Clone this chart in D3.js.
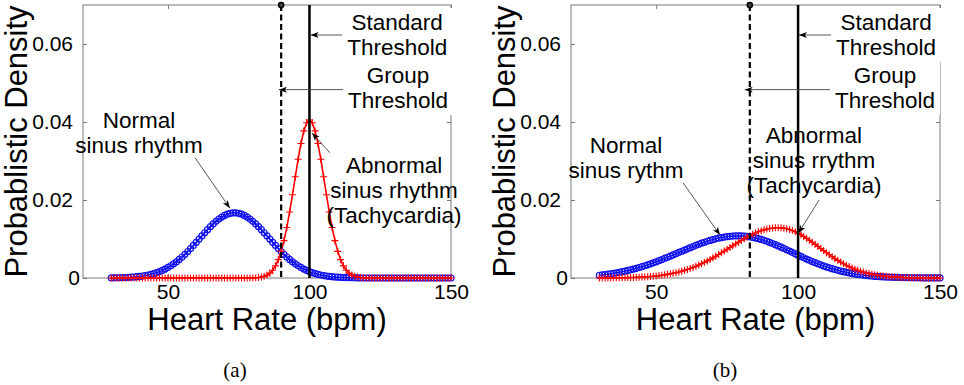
<!DOCTYPE html>
<html>
<head>
<meta charset="utf-8">
<script src="https://cdn.jsdelivr.net/npm/d3@7"></script>
<style>
  body { margin: 0; background: #fff; }
  svg { display: block; }
</style>
</head>
<body>
<svg id="fig" width="964" height="385"></svg>
<script>
// heart rate grid, 1 bpm steps
var heartRate = d3.range(30, 151);

// (a) densities
var normalA = [
    0.00003, 0.00004, 0.00006, 0.00007, 0.0001, 0.00012, 0.00016, 0.0002, 0.00026, 0.00033,
    0.00041, 0.00051, 0.00063, 0.00077, 0.00094, 0.00114, 0.00137, 0.00164, 0.00195, 0.0023,
    0.0027, 0.00314, 0.00363, 0.00416, 0.00476, 0.00539, 0.00607, 0.00679, 0.00755, 0.00834,
    0.00915, 0.00997, 0.01079, 0.0116, 0.01239, 0.01315, 0.01387, 0.01452, 0.01511, 0.01562,
    0.01604, 0.01636, 0.01658, 0.0167, 0.0167, 0.01658, 0.01636, 0.01604, 0.01562, 0.01511,
    0.01452, 0.01387, 0.01315, 0.01239, 0.0116, 0.01079, 0.00997, 0.00915, 0.00834, 0.00755,
    0.00679, 0.00607, 0.00539, 0.00476, 0.00416, 0.00363, 0.00314, 0.0027, 0.0023, 0.00195,
    0.00164, 0.00137, 0.00114, 0.00094, 0.00077, 0.00063, 0.00051, 0.00041, 0.00033, 0.00026,
    0.0002, 0.00016, 0.00012, 0.0001, 0.00007, 0.00006, 0.00004, 0.00003, 0, 0,
    0, 0, 0, 0, 0, 0, 0, 0, 0, 0,
    0, 0, 0, 0, 0, 0, 0, 0, 0, 0,
    0, 0, 0, 0, 0, 0, 0, 0, 0, 0,
    0
];
var abnormalA = [
    0, 0, 0, 0, 0, 0, 0, 0, 0, 0,
    0, 0, 0, 0, 0, 0, 0, 0, 0, 0,
    0, 0, 0, 0, 0, 0, 0, 0, 0, 0,
    0, 0, 0, 0, 0, 0, 0, 0, 0, 0,
    0, 0, 0, 0, 0, 0, 0, 0, 0, 0,
    0.00003, 0.00007, 0.00013, 0.00024, 0.00042, 0.00074, 0.00124, 0.002, 0.00312, 0.0047,
    0.00683, 0.00958, 0.01296, 0.01693, 0.02134, 0.02595, 0.03046, 0.0345, 0.03772, 0.03979,
    0.0405, 0.03979, 0.03772, 0.0345, 0.03046, 0.02595, 0.02134, 0.01693, 0.01296, 0.00958,
    0.00683, 0.0047, 0.00312, 0.002, 0.00124, 0.00074, 0.00042, 0.00024, 0.00013, 0.00007,
    0.00003, 0, 0, 0, 0, 0, 0, 0, 0, 0,
    0, 0, 0, 0, 0, 0, 0, 0, 0, 0,
    0, 0, 0, 0, 0, 0, 0, 0, 0, 0,
    0
];

// (b) densities
var normalB = [
    0.00071, 0.00079, 0.00088, 0.00098, 0.00109, 0.0012, 0.00133, 0.00146, 0.00161, 0.00176,
    0.00193, 0.0021, 0.00229, 0.00248, 0.00269, 0.00291, 0.00314, 0.00338, 0.00363, 0.00389,
    0.00416, 0.00444, 0.00473, 0.00502, 0.00532, 0.00562, 0.00593, 0.00624, 0.00655, 0.00686,
    0.00717, 0.00748, 0.00778, 0.00808, 0.00837, 0.00865, 0.00892, 0.00917, 0.00942, 0.00964,
    0.00985, 0.01004, 0.01022, 0.01037, 0.0105, 0.01061, 0.01069, 0.01075, 0.01079, 0.0108,
    0.01079, 0.01074, 0.01067, 0.01056, 0.01043, 0.01027, 0.01009, 0.00988, 0.00965, 0.0094,
    0.00913, 0.00885, 0.00855, 0.00823, 0.00791, 0.00758, 0.00724, 0.0069, 0.00655, 0.00621,
    0.00586, 0.00552, 0.00519, 0.00486, 0.00454, 0.00423, 0.00393, 0.00365, 0.00337, 0.0031,
    0.00285, 0.00262, 0.00239, 0.00218, 0.00198, 0.00179, 0.00162, 0.00146, 0.00131, 0.00118,
    0.00105, 0.00094, 0.00083, 0.00074, 0.00065, 0.00058, 0.00051, 0.00044, 0.00039, 0.00034,
    0.00029, 0.00026, 0.00022, 0.00019, 0.00016, 0.00014, 0.00012, 0.0001, 0.00009, 0.00007,
    0.00006, 0.00005, 0.00004, 0.00004, 0.00003, 0.00003, 0.00002, 0.00002, 0.00001, 0.00001,
    0.00001
];
var abnormalB = [
    0.00001, 0.00002, 0.00002, 0.00003, 0.00003, 0.00004, 0.00005, 0.00006, 0.00007, 0.00008,
    0.0001, 0.00012, 0.00014, 0.00017, 0.0002, 0.00024, 0.00028, 0.00033, 0.00039, 0.00045,
    0.00053, 0.00061, 0.0007, 0.00081, 0.00093, 0.00106, 0.00121, 0.00137, 0.00155, 0.00175,
    0.00196, 0.00219, 0.00245, 0.00272, 0.00301, 0.00332, 0.00365, 0.00401, 0.00438, 0.00476,
    0.00517, 0.00558, 0.00601, 0.00646, 0.00691, 0.00736, 0.00782, 0.00828, 0.00874, 0.00919,
    0.00963, 0.01006, 0.01046, 0.01085, 0.01121, 0.01155, 0.01185, 0.01212, 0.01235, 0.01255,
    0.0127, 0.01281, 0.01288, 0.0129, 0.01287, 0.01278, 0.01263, 0.01242, 0.01216, 0.01184,
    0.01148, 0.01108, 0.01064, 0.01017, 0.00967, 0.00916, 0.00863, 0.00809, 0.00755, 0.00702,
    0.00649, 0.00597, 0.00547, 0.00498, 0.00452, 0.00408, 0.00367, 0.00328, 0.00292, 0.00258,
    0.00228, 0.002, 0.00175, 0.00152, 0.00131, 0.00113, 0.00097, 0.00083, 0.0007, 0.00059,
    0.0005, 0.00042, 0.00035, 0.00029, 0.00024, 0.00019, 0.00016, 0.00013, 0.0001, 0.00008,
    0.00007, 0.00005, 0.00004, 0.00003, 0.00002, 0.00002, 0.00001, 0.00001, 0.00001, 0,
    0
];

var xTicks = [50, 100, 150];
var yTicks = [0, 0.02, 0.04, 0.06];
var standardThreshold = 100;
var groupThresholdA = 90;
var groupThresholdB = 83;

// annotation text, anchored in data units (bpm, density)
var notesA = [
    { lines: ["Standard", "Threshold"], at: [131, 0.0636], box: true, from: [115, 0.0623], to: [100.4, 0.0623] },
    { lines: ["Group", "Threshold"], at: [131.3, 0.05], box: true, from: [114.3, 0.0483], to: [89.2, 0.0483] },
    { lines: ["Normal", "sinus rhythm"], at: [39.8, 0.0385], from: [59.6, 0.0308], to: [71.9, 0.0179] },
    { lines: ["Abnormal", "sinus rhythm", "(Tachycardia)"], at: [129.9, 0.0269], from: [107.2, 0.0321], to: [100.9, 0.0372] }
];
var notesB = [
    { lines: ["Standard", "Threshold"], at: [131, 0.0636], box: true, from: [114.8, 0.0623], to: [100.3, 0.0623] },
    { lines: ["Group", "Threshold"], at: [130.6, 0.05], box: true, from: [114.4, 0.0483], to: [81.2, 0.0483] },
    { lines: ["Normal", "sinus rythm"], at: [39.4, 0.0321], from: [59.5, 0.0244], to: [72.5, 0.011] },
    { lines: ["Abnormal", "sinus rrythm", "(Tachycardia)"], at: [105.6, 0.0346], from: [107.4, 0.02], to: [100.1, 0.0115] }
];

var sans = "'Liberation Sans', Arial, Helvetica, sans-serif";
var svg = d3.select("#fig");

svg.append("rect").attr("width", 964).attr("height", 385).attr("fill", "#fff");
svg.append("defs").append("marker")
    .attr("id", "head")
    .attr("markerUnits", "userSpaceOnUse")
    .attr("markerWidth", 10).attr("markerHeight", 8)
    .attr("refX", 8).attr("refY", 4)
    .attr("orient", "auto")
    .append("path")
    .attr("d", "M0,1 L8,4 L0,7 L2,4 Z")
    .attr("fill", "#000");

function drawPanel(p) {
    var x = d3.scaleLinear().domain([20, 150]).range([p.left, p.right]);
    var y = d3.scaleLinear().domain([0, 0.07]).range([278, 5]);
    var g = svg.append("g");

    // axes (ticks inside, box on)
    var bottom = g.append("g").attr("transform", "translate(0," + y(0) + ")")
        .call(d3.axisBottom(x).tickValues(xTicks).tickSize(-4).tickPadding(6));
    var left = g.append("g").attr("transform", "translate(" + p.left + ",0)")
        .call(d3.axisLeft(y).tickValues(yTicks).tickSize(-4).tickPadding(10)
            .tickFormat(function (d) { return d === 0 ? "0" : d3.format(".2f")(d); }));
    var top = g.append("g").attr("transform", "translate(0," + y(0.07) + ")")
        .call(d3.axisTop(x).tickValues(xTicks).tickSize(-4).tickFormat(""));
    var right = g.append("g").attr("transform", "translate(" + p.right + ",0)")
        .call(d3.axisRight(y).tickValues(yTicks).tickSize(-4).tickFormat(""));

    [bottom, left, top, right].forEach(function (a) {
        a.attr("font-family", sans).attr("font-size", 21);
        a.select(".domain").remove();
        a.selectAll(".tick line").attr("stroke", "#7a7a7a");
        a.selectAll(".tick text").attr("fill", "#000");
    });
    left.selectAll(".tick text").filter(function (d) { return d === 0; }).attr("x", -3);

    g.append("rect")
        .attr("x", p.left).attr("y", y(0.07))
        .attr("width", p.right - p.left).attr("height", y(0) - y(0.07))
        .attr("fill", "none").attr("stroke", "#7a7a7a").attr("stroke-width", 1);

    // curves
    var line = d3.line()
        .x(function (d, i) { return x(heartRate[i]); })
        .y(function (d) { return y(d); });

    g.append("path").datum(p.normal)
        .attr("d", line)
        .attr("fill", "none").attr("stroke", "#0000ff").attr("stroke-width", 1.5);
    g.append("g").selectAll("circle").data(p.normal).join("circle")
        .attr("cx", function (d, i) { return x(heartRate[i]); })
        .attr("cy", function (d) { return y(d); })
        .attr("r", 3)
        .attr("fill", "none").attr("stroke", "#1010ee").attr("stroke-width", 1.2);

    g.append("path").datum(p.abnormal)
        .attr("d", line)
        .attr("fill", "none").attr("stroke", "#ff0000").attr("stroke-width", 1.6);
    g.append("g").selectAll("path").data(p.abnormal).join("path")
        .attr("transform", function (d, i) { return "translate(" + x(heartRate[i]) + "," + y(d) + ")"; })
        .attr("d", "M-3.5,0H3.5M0,-3.5V3.5")
        .attr("stroke", "#ff0000").attr("stroke-width", 1.1);

    // thresholds
    g.append("line")
        .attr("x1", x(standardThreshold)).attr("x2", x(standardThreshold))
        .attr("y1", y(0.07)).attr("y2", y(0))
        .attr("stroke", "#000").attr("stroke-width", 2.5);
    g.append("line")
        .attr("x1", x(p.group)).attr("x2", x(p.group))
        .attr("y1", y(0.07)).attr("y2", y(0))
        .attr("stroke", "#000").attr("stroke-width", 2.2)
        .attr("stroke-dasharray", "6,3.5");
    g.append("circle")
        .attr("cx", x(p.group)).attr("cy", y(0.07)).attr("r", 2.6)
        .attr("fill", "#444").attr("stroke", "#000").attr("stroke-width", 1.5);

    // annotations
    p.notes.forEach(function (n) {
        g.append("line")
            .attr("x1", x(n.from[0])).attr("y1", y(n.from[1]))
            .attr("x2", x(n.to[0])).attr("y2", y(n.to[1]))
            .attr("stroke", "#444").attr("stroke-width", 0.9)
            .attr("marker-end", "url(#head)");
    });
    p.notes.forEach(function (n) {
        var t = g.append("text")
            .attr("x", x(n.at[0])).attr("y", y(n.at[1]))
            .attr("text-anchor", "middle")
            .attr("font-family", sans).attr("font-size", 22.5)
            .attr("fill", "#000");
        n.lines.forEach(function (s, i) {
            t.append("tspan").attr("x", x(n.at[0])).attr("dy", i === 0 ? 0 : 25).text(s);
        });
        if (n.box) {
            var b = t.node().getBBox();
            g.insert("rect", function () { return t.node(); })
                .attr("x", b.x - 5).attr("y", b.y - 2)
                .attr("width", b.width + 10).attr("height", b.height + 4)
                .attr("fill", "#fff");
        }
    });

    // labels
    g.append("text")
        .attr("transform", "translate(" + (p.left - 56) + "," + ((y(0) + y(0.07)) / 2) + ") rotate(-90)")
        .attr("text-anchor", "middle")
        .attr("font-family", sans).attr("font-size", 31)
        .text("Probablistic Density");
    g.append("text")
        .attr("x", (p.left + p.right) / 2).attr("y", 330)
        .attr("text-anchor", "middle")
        .attr("font-family", sans).attr("font-size", 31)
        .text("Heart Rate (bpm)");
    g.append("text")
        .attr("x", p.captionX).attr("y", 377)
        .attr("text-anchor", "middle")
        .attr("font-family", "'Liberation Serif', 'DejaVu Serif', serif").attr("font-size", 21)
        .text(p.caption);
}

drawPanel({ left: 83, right: 451, normal: normalA, abnormal: abnormalA, group: groupThresholdA, notes: notesA, caption: "(a)", captionX: 235 });
drawPanel({ left: 571, right: 940, normal: normalB, abnormal: abnormalB, group: groupThresholdB, notes: notesB, caption: "(b)", captionX: 725 });
</script>
</body>
</html>
